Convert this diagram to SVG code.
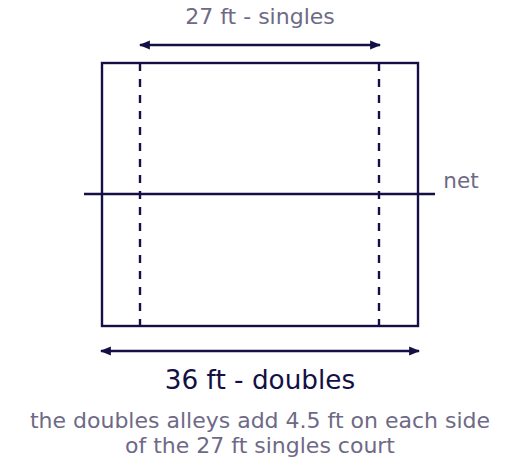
<svg xmlns="http://www.w3.org/2000/svg" width="520" height="467" viewBox="0 0 520 467">
<style>
.ln{stroke:#140f45;stroke-width:2.4;fill:none}
.ds{stroke:#140f45;stroke-width:2.4;fill:none;stroke-dasharray:8 8}
.lbl{font-family:"DejaVu Sans",sans-serif;fill:#6e6a86;text-anchor:middle}
.main{font-family:"DejaVu Sans",sans-serif;fill:#140f45;text-anchor:middle}
</style>
<defs>
<marker id="ah" viewBox="0 0 10 10" refX="9" refY="5" markerWidth="11" markerHeight="11" markerUnits="userSpaceOnUse" orient="auto-start-reverse">
<path d="M0,1 L10,5 L0,9 Z" fill="#140f45"/>
</marker>
</defs>
<rect width="520" height="467" fill="#ffffff"/>
<g id="court">
<rect x="102" y="63" width="316" height="263" class="ln"/>
</g>
<g id="singles-lines">
<line x1="140" y1="63" x2="140" y2="326" class="ds"/>
<line x1="379" y1="63" x2="379" y2="326" class="ds"/>
</g>
<g id="net">
<line x1="84" y1="194" x2="435" y2="194" class="ln"/>
<text x="461" y="188" class="lbl" font-size="21.5">net</text>
</g>
<g id="connectors">
<line x1="140" y1="45" x2="380" y2="45" class="ln" marker-start="url(#ah)" marker-end="url(#ah)"/>
<line x1="101" y1="351" x2="419" y2="351" class="ln" marker-start="url(#ah)" marker-end="url(#ah)"/>
</g>
<g id="labels">
<text x="260" y="24" class="lbl" font-size="22">27 ft - singles</text>
<text x="260" y="389" class="main" font-size="26.3">36 ft - doubles</text>
<text x="260" y="428" class="lbl" font-size="22">the doubles alleys add 4.5 ft on each side</text>
<text x="260" y="453" class="lbl" font-size="22">of the 27 ft singles court</text>
</g>
</svg>
